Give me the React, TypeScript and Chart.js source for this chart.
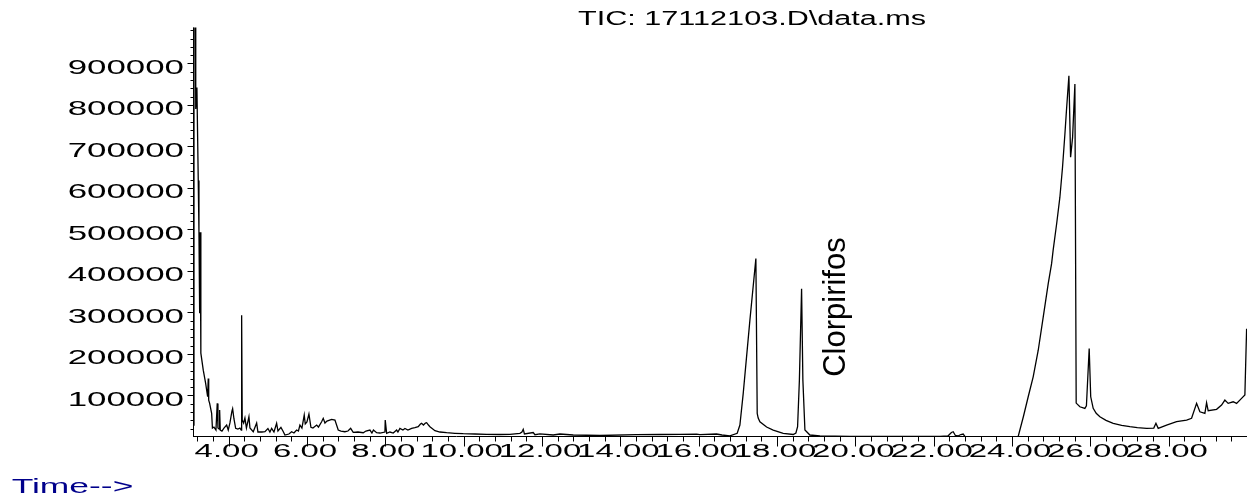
import { useEffect, useRef } from "react";
import { Chart, registerables } from "chart.js";

Chart.register(...registerables);

// Total ion chromatogram: retention time (min) and abundance
const retentionTimes = [
  3.1, 3.115, 3.15, 3.16, 3.19, 3.224, 3.242, 3.26, 3.275, 3.288, 3.293, 3.352, 3.413, 3.464, 3.479, 3.491,
  3.515, 3.566, 3.586, 3.625, 3.676, 3.709, 3.727, 3.76, 3.77, 3.786, 3.829, 3.88, 3.949, 3.99, 4.033, 4.084,
  4.102, 4.135, 4.179, 4.237, 4.288, 4.322, 4.332, 4.347, 4.383, 4.416, 4.454, 4.518, 4.544, 4.628, 4.715, 4.748,
  4.85, 4.927, 5.003, 5.054, 5.098, 5.157, 5.225, 5.259, 5.335, 5.386, 5.437, 5.539, 5.608, 5.667, 5.736, 5.782,
  5.82, 5.871, 5.93, 5.956, 5.999, 6.05, 6.101, 6.152, 6.247, 6.293, 6.374, 6.415, 6.459, 6.51, 6.63, 6.714,
  6.798, 6.867, 6.969, 7.046, 7.115, 7.181, 7.301, 7.436, 7.505, 7.607, 7.658, 7.697, 7.778, 7.863, 7.99, 7.998,
  8.034, 8.118, 8.202, 8.289, 8.322, 8.373, 8.45, 8.501, 8.577, 8.672, 8.756, 8.84, 8.897, 8.927, 8.973, 9.024,
  9.055, 9.101, 9.139, 9.267, 9.394, 9.566, 9.777, 9.989, 10.288, 10.587, 10.926, 11.182, 11.437, 11.488, 11.521, 11.552,
  11.776, 11.82, 11.947, 12.287, 12.458, 12.798, 13.479, 14.416, 15.011, 15.522, 15.948, 16.032, 16.458, 16.594, 16.798, 16.984,
  17.053, 17.138, 17.308, 17.461, 17.495, 17.52, 17.564, 17.735, 17.903, 18.159, 18.414, 18.483, 18.526, 18.572, 18.628, 18.661,
  18.713, 18.84, 19.096, 19.862, 21.138, 22.16, 22.364, 22.453, 22.499, 22.555, 22.619, 22.695, 22.754, 22.797, 23.436, 24.158,
  24.29, 24.414, 24.541, 24.67, 24.797, 24.925, 25.011, 25.05, 25.14, 25.223, 25.29, 25.351, 25.39, 25.453, 25.496, 25.547,
  25.606, 25.639, 25.733, 25.861, 25.9, 25.971, 26.01, 26.073, 26.15, 26.244, 26.4, 26.584, 26.8, 27.01, 27.2, 27.436,
  27.62, 27.675, 27.733, 27.947, 28.202, 28.458, 28.585, 28.713, 28.797, 28.925, 28.968, 29.009, 29.223, 29.351, 29.435, 29.519,
  29.647, 29.734, 29.861, 29.946, 29.99,
];

const ticAbundance = [
  28800, 1100000, 1100000, 790000, 842000, 618000, 494000, 298000, 493000, 298000, 202000, 161000, 129000, 97000, 141000, 89000,
  81000, 57000, 21600, 24000, 16800, 81000, 21600, 19200, 65000, 16800, 14400, 21600, 28800, 16800, 34000, 62000,
  68000, 44000, 20900, 19200, 21600, 16800, 293000, 40900, 33700, 45700, 21600, 48800, 21600, 12700, 33700, 12000,
  12000, 12700, 20400, 12000, 20900, 12000, 32900, 14400, 23300, 14400, 4800, 7200, 12700, 9600, 16800, 14400,
  28800, 21600, 52900, 31300, 36100, 55300, 23300, 21600, 28800, 24000, 36800, 45000, 33700, 38500, 42600, 40900,
  16800, 14400, 12700, 14400, 20900, 11300, 12000, 10300, 14400, 16800, 9600, 16800, 10300, 9600, 12000, 40900,
  8900, 12000, 9600, 16800, 12000, 20900, 16800, 20400, 16800, 20900, 22400, 24800, 31300, 32900, 28800, 33700,
  34400, 28800, 24800, 15100, 12000, 10300, 8900, 7900, 7200, 6500, 6000, 6500, 8900, 12000, 18500, 7200,
  10800, 5500, 7700, 4800, 7200, 4800, 3600, 5500, 6000, 6500, 6700, 5500, 7200, 4800, 2900, 8900,
  28800, 105000, 281000, 430000, 57000, 45700, 36800, 24000, 16800, 8900, 6000, 9600, 24800, 137000, 357000, 137000,
  16800, 4800, 2400, 1700, 1500, 1500, 2400, 10800, 12700, 3600, 2400, 6000, 7200, 1700, 1000, 1200,
  48800, 96900, 145000, 209000, 289000, 369500, 417600, 449500, 513700, 577700, 649800, 730100, 786100, 870300, 673800, 721900,
  850300, 81700, 72800, 69000, 75000, 213200, 96900, 69000, 57000, 48800, 40000, 32900, 28000, 24800, 22500, 20900,
  21500, 32900, 20900, 28800, 36800, 40900, 45000, 81000, 60800, 57000, 82500, 63200, 66600, 76900, 88900, 81000,
  84900, 81000, 93000, 101000, 261000,
];

const xMajorTicks = [4, 6, 8, 10, 12, 14, 16, 18, 20, 22, 24, 26, 28];
const yMajorTicks = [100000, 200000, 300000, 400000, 500000, 600000, 700000, 800000, 900000];
const xMinorStep = 0.4;
const yMinorStep = 20000;

const chartTitle = "TIC: 17112103.D\\data.ms";
const timeAxisTitle = "Time-->";
const peakName = "Clorpirifos";
const peakNameTime = 19.73;
const peakNameAbundance = 145000;

const FONT = '"Liberation Sans", Arial, Helvetica, sans-serif';

function wideText(
  ctx: CanvasRenderingContext2D,
  text: string,
  x: number,
  y: number,
  size: number,
  stretch: number,
  align: CanvasTextAlign,
  color = "#000"
) {
  ctx.save();
  ctx.translate(x, y);
  ctx.scale(stretch, 1);
  ctx.font = `${size}px ${FONT}`;
  ctx.fillStyle = color;
  ctx.textAlign = align;
  ctx.textBaseline = "alphabetic";
  ctx.fillText(text, 0, 0);
  ctx.restore();
}

// Draws the instrument-style axes, ticks and captions from the chart scales
const chromatogramAxes = {
  id: "chromatogramAxes",
  afterDraw(chart: any) {
    const { ctx, chartArea, scales } = chart;
    const xs = scales.x;
    const ys = scales.y;
    const ax = Math.round(chartArea.left) + 0.5;
    const ay = Math.round(chartArea.bottom) - 0.5;

    ctx.save();
    ctx.strokeStyle = "#000";
    ctx.lineWidth = 1;
    ctx.beginPath();
    ctx.moveTo(ax, chartArea.top);
    ctx.lineTo(ax, ay);
    ctx.moveTo(chartArea.left, ay);
    ctx.lineTo(chartArea.right, ay);

    for (let i = 1; i * yMinorStep <= ys.max; i++) {
      const v = i * yMinorStep;
      const py = Math.round(ys.getPixelForValue(v)) + 0.5;
      const len = yMajorTicks.includes(v) ? 6 : 3;
      ctx.moveTo(ax - len, py);
      ctx.lineTo(ax, py);
    }

    const firstMinor = Math.ceil(xs.min / xMinorStep);
    for (let i = firstMinor; i * xMinorStep <= xs.max - 0.05; i++) {
      const t = Math.round(i * xMinorStep * 10) / 10;
      const px = Math.round(xs.getPixelForValue(t)) + 0.5;
      const len = xMajorTicks.includes(t) ? 10 : 5;
      ctx.moveTo(px, ay);
      ctx.lineTo(px, ay + len);
    }
    ctx.stroke();
    ctx.restore();

    for (const v of yMajorTicks) {
      const py = ys.getPixelForValue(v);
      wideText(ctx, String(v), ax - 9.5, py + 10.5, 21, 1.66, "right");
    }
    for (const t of xMajorTicks) {
      const px = xs.getPixelForValue(t);
      wideText(ctx, t.toFixed(2), px - 2, 457, 18, 1.83, "center");
    }

    wideText(ctx, chartTitle, 578, 25, 20, 1.53, "left");
    wideText(ctx, timeAxisTitle, 11.7, 492.5, 20, 1.77, "left", "#00008b");

    ctx.save();
    ctx.translate(xs.getPixelForValue(peakNameTime), ys.getPixelForValue(peakNameAbundance));
    ctx.rotate(-Math.PI / 2);
    ctx.font = `31px ${FONT}`;
    ctx.fillStyle = "#000";
    ctx.textAlign = "left";
    ctx.textBaseline = "alphabetic";
    ctx.fillText(peakName, 0, 0);
    ctx.restore();
  },
};

export default function App() {
  const canvasRef = useRef<HTMLCanvasElement>(null);

  useEffect(() => {
    const points = retentionTimes.map((t, i) => ({ x: t, y: ticAbundance[i] }));
    const chart = new Chart(canvasRef.current as HTMLCanvasElement, {
      type: "line",
      data: {
        datasets: [
          {
            data: points,
            borderColor: "#000",
            borderWidth: 1.3,
            pointRadius: 0,
            tension: 0,
            fill: false,
          },
        ],
      },
      options: {
        animation: false,
        responsive: true,
        maintainAspectRatio: false,
        events: [],
        layout: { padding: { left: 193, right: 4, top: 27.5, bottom: 65 } },
        plugins: { legend: { display: false }, tooltip: { enabled: false }, title: { display: false } },
        scales: {
          x: { type: "linear", min: 3.09, max: 30.0, display: false },
          y: { type: "linear", min: 0, max: 986500, display: false },
        },
      },
      plugins: [chromatogramAxes],
    });
    return () => chart.destroy();
  }, []);

  return (
    <div style={{ position: "fixed", left: 0, top: 0, width: 1251, height: 502, background: "#fff" }}>
      <canvas ref={canvasRef} />
    </div>
  );
}
